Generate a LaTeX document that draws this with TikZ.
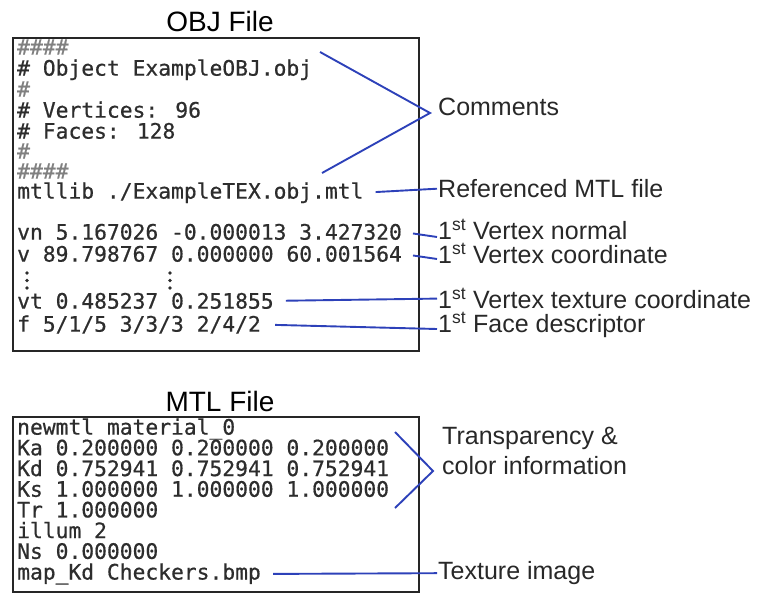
\documentclass[tikz,border=0pt]{standalone}
\usepackage{fontspec}
\setmainfont{Liberation Sans}
\newfontfamily\codefont[FakeBold=0.6]{DejaVu Sans Mono}
\definecolor{linkblue}{RGB}{45,65,185}
\definecolor{txtgray}{RGB}{40,40,40}
\definecolor{codegray}{RGB}{45,45,45}
\begin{document}
\begin{tikzpicture}[x=1pt,y=-1pt,
  codeline/.style={anchor=mid west,inner xsep=0pt,inner ysep=0pt,font=\codefont\fontsize{21.3}{21}\selectfont,text=codegray},
  hashline/.style={codeline,text=gray},
  lbl/.style={anchor=mid west,inner xsep=1pt,inner ysep=0pt,font=\fontsize{25}{25}\selectfont,text=txtgray},
  ttl/.style={inner sep=0pt,font=\fontsize{28}{28}\selectfont,text=black},
  filebox/.style={draw=black!85,line width=1.8pt},
  link/.style={draw=linkblue,line width=1.9pt,shorten <=12pt},
  brace/.style={draw=linkblue,line width=1.9pt,line join=miter}]
\useasboundingbox (0,0) rectangle (765,594);
% ---------- OBJ file ----------
\node[ttl] (objt) at (220,21) {OBJ File};
\draw[filebox] (13,38) rectangle (419,351);
\node[hashline] (o1) at (17,52) {\#\#\#\#};
\node[codeline] (o2) at (17,73) {\# Object ExampleOBJ.obj};
\node[hashline] (o3) at (17,94) {\#};
\node[codeline] (o4) at (17,115) {\# Vertices: 96};
\node[codeline] (o5) at (17,136) {\# Faces: 128};
\node[hashline] (o6) at (17,156) {\#};
\node[hashline] (o7) at (17,176) {\#\#\#\#};
\node[codeline] (omtl) at (17,196) {mtllib ./ExampleTEX.obj.mtl};
\node[codeline] (ovn) at (17,237) {vn 5.167026 -0.000013 3.427320};
\node[codeline] (ov) at (17,259) {v 89.798767 0.000000 60.001564};
\foreach \xx in {27,170}{
  \foreach \yy in {273,280.5,288} \fill[codegray] (\xx,\yy) circle (1.9);
}
\node[codeline] (ovt) at (17,306) {vt 0.485237 0.251855};
\node[codeline] (of) at (17,329) {f 5/1/5 3/3/3 2/4/2};
% labels
\node[lbl] (lcom) at (437,113) {Comments};
\node[lbl] (lref) at (437,195) {Referenced MTL file};
\node[lbl] (lvn) at (437,237) {1\textsuperscript{st} Vertex normal};
\node[lbl] (lv) at (437,261) {1\textsuperscript{st} Vertex coordinate};
\node[lbl] (lvt) at (437,306) {1\textsuperscript{st} Vertex texture coordinate};
\node[lbl] (lf) at (437,330) {1\textsuperscript{st} Face descriptor};
% connectors
\coordinate (cu) at (320,52);
\coordinate (cl) at (322,173);
\coordinate (ctip) at (430,113);
\draw[brace] (cu) -- (ctip) -- (cl);
\draw[link] (omtl.east) -- (lref.west);
\draw[link,shorten <=11pt] (ovn.east) -- (lvn.west |- ovn.mid);
\draw[link,shorten <=11pt] (ov.east) -- (lv.west |- ov.mid);
\draw[link] (ovt.east) -- (lvt.west);
\draw[link,shorten <=14pt] (of.east) -- (lf.west |- of.mid);
% ---------- MTL file ----------
\node[ttl] (mtlt) at (220,401) {MTL File};
\draw[filebox] (13,417) rectangle (419,592);
\node[codeline] (m1) at (17,432) {newmtl material\_0};
\node[codeline] (m2) at (17,452.7) {Ka 0.200000 0.200000 0.200000};
\node[codeline] (m3) at (17,473.4) {Kd 0.752941 0.752941 0.752941};
\node[codeline] (m4) at (17,494.1) {Ks 1.000000 1.000000 1.000000};
\node[codeline] (m5) at (17,514.8) {Tr 1.000000};
\node[codeline] (m6) at (17,535.5) {illum 2};
\node[codeline] (m7) at (17,556.2) {Ns 0.000000};
\node[codeline] (m8) at (17,576.9) {map\_Kd Checkers.bmp};
\node[lbl,align=left,font=\fontsize{25}{30}\selectfont] (ltr) at (441,472) {Transparency \&\\color information};
\node[lbl] (ltex) at (437,577) {Texture image};
\coordinate (tu) at (395,432);
\coordinate (tl) at (395,508);
\coordinate (ttip) at (433,471);
\draw[brace] (tu) -- (ttip) -- (tl);
\draw[link] (m8.east) -- (ltex.west);
\end{tikzpicture}
\end{document}
